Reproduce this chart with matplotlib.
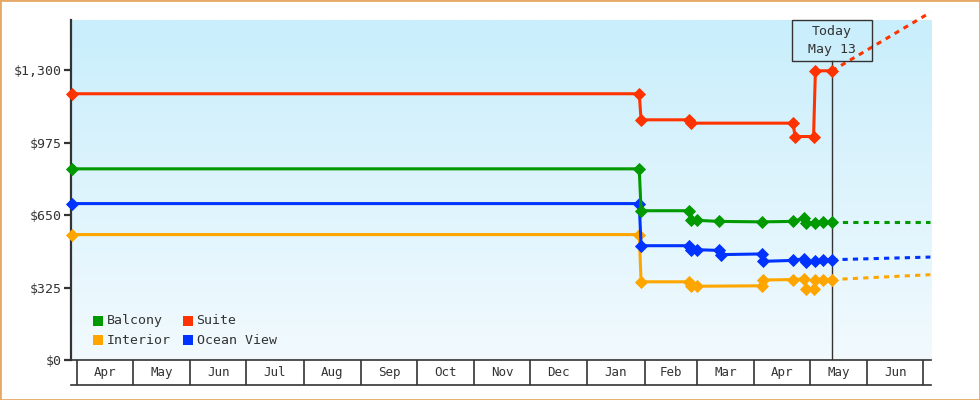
import matplotlib
matplotlib.use('Agg')
import matplotlib.pyplot as plt
import matplotlib.dates as mdates
from matplotlib.colors import LinearSegmentedColormap
from matplotlib.patches import Rectangle
import numpy as np
import pandas as pd

# ---------------- data ----------------
series_names = ['Balcony', 'Suite', 'Interior', 'Ocean View']
series_colors = ['#009900', '#ff3300', '#ffa500', '#0033ff']

balcony_dates = ['2024-03-29', '2025-01-29', '2025-01-30', '2025-02-25', '2025-02-26', '2025-03-01',
                 '2025-03-13', '2025-04-05', '2025-04-22', '2025-04-28', '2025-04-29', '2025-05-04',
                 '2025-05-08', '2025-05-13']
balcony_prices = [858, 858, 670, 670, 627, 627, 622, 620, 622, 637, 615, 615, 620, 620]

suite_dates = ['2024-03-29', '2025-01-29', '2025-01-30', '2025-02-25', '2025-02-26', '2025-04-22',
               '2025-04-23', '2025-05-03', '2025-05-04', '2025-05-13']
suite_prices = [1195, 1195, 1078, 1078, 1063, 1063, 1003, 1003, 1298, 1298]

interior_dates = ['2024-03-29', '2025-01-29', '2025-01-30', '2025-02-25', '2025-02-26', '2025-03-01',
                  '2025-04-05', '2025-04-06', '2025-04-22', '2025-04-28', '2025-04-29', '2025-05-03',
                  '2025-05-04', '2025-05-08', '2025-05-13']
interior_prices = [563, 563, 351, 351, 331, 331, 333, 359, 361, 364, 319, 319, 359, 361, 361]

ocean_dates = ['2024-03-29', '2025-01-29', '2025-01-30', '2025-02-25', '2025-02-26', '2025-03-01',
               '2025-03-13', '2025-03-14', '2025-04-05', '2025-04-06', '2025-04-22', '2025-04-28',
               '2025-04-29', '2025-05-04', '2025-05-08', '2025-05-13']
ocean_prices = [702, 702, 513, 513, 495, 495, 492, 473, 476, 443, 447, 455, 438, 443, 450, 450]

projection_end = '2025-07-05'
projection_end_prices = [620, 1560, 383, 462]   # Balcony, Suite, Interior, Ocean View

today = '2025-05-13'
today_label = 'Today\nMay 13'

y_ticks = [0, 325, 650, 975, 1300]
y_max = 1526
x_start = '2024-03-28 14:00'
x_end = '2025-07-05 08:00'
month_starts = pd.date_range('2024-04-01', '2025-07-01', freq='MS')
month_labels = ['Apr', 'May', 'Jun', 'Jul', 'Aug', 'Sep', 'Oct', 'Nov', 'Dec',
                'Jan', 'Feb', 'Mar', 'Apr', 'May', 'Jun']

series_dates = [balcony_dates, suite_dates, interior_dates, ocean_dates]
series_prices = [balcony_prices, suite_prices, interior_prices, ocean_prices]

# ---------------- style ----------------
FONT = 'DejaVu Sans Mono'
TXT = '#333333'
plt.rcParams['font.family'] = [FONT, 'DejaVu Sans']

W, H = 980, 400
fig = plt.figure(figsize=(W / 100, H / 100), dpi=100)
fig.patch.set_facecolor('white')

L, R, T, B = 71, 931, 20, 360
ax_rect = [L / W, 1 - B / H, (R - L) / W, (B - T) / H]

# gradient background
bg = fig.add_axes(ax_rect, zorder=0)
cmap = LinearSegmentedColormap.from_list('bg', ['#f2fafe', '#c9eefc'])
bg.imshow(np.linspace(0, 1, 256).reshape(-1, 1), cmap=cmap, aspect='auto',
          origin='lower', extent=[0, 1, 0, 1])
bg.axis('off')

ax = fig.add_axes(ax_rect, zorder=1)
ax.set_facecolor('none')

xmin = mdates.date2num(pd.Timestamp(x_start))
xmax = mdates.date2num(pd.Timestamp(x_end))
ax.set_xlim(xmin, xmax)
ax.set_ylim(0, y_max)

# today line
today_num = mdates.date2num(pd.Timestamp(today))
box_h_px, box_w_px = 41, 80
ax.axvline(pd.Timestamp(today), ymin=0, ymax=1 - box_h_px / (B - T), color=TXT, lw=1, zorder=2)

draw_order = [2, 3, 0, 1]
for i in draw_order:
    d = pd.to_datetime(series_dates[i])
    ax.plot(d, series_prices[i], color=series_colors[i], lw=2.2, marker='D', ms=6,
            markeredgewidth=0.6, markeredgecolor=series_colors[i],
            solid_joinstyle='miter', clip_on=False, zorder=3)
    ax.plot(pd.to_datetime([series_dates[i][-1], projection_end]),
            [series_prices[i][-1], projection_end_prices[i]],
            color=series_colors[i], lw=2.2, dashes=(1.7, 1.7), clip_on=False, zorder=3)

fx = ax_rect[0] + (today_num - xmin) / (xmax - xmin) * ax_rect[2]
fig.patches.append(Rectangle((fx - box_w_px / 2 / W, 1 - (T + box_h_px) / H), box_w_px / W, box_h_px / H,
                             transform=fig.transFigure, fill=False, ec=TXT, lw=1, zorder=5))
fig.text(fx, 1 - (T + box_h_px / 2) / H, today_label, ha='center', va='center',
         fontsize=9.5, color=TXT, linespacing=1.45, family=FONT)

# axes styling
for s in ['top', 'right', 'bottom']:
    ax.spines[s].set_visible(False)
ax.spines['left'].set_color(TXT)
ax.spines['left'].set_linewidth(1.6)
ax.spines['left'].set_zorder(2.5)
ax.set_yticks(y_ticks)
ax.set_yticklabels(['${:,}'.format(v) for v in y_ticks], fontsize=9.5, color=TXT, family=FONT)
ax.tick_params(axis='y', length=5, width=1.6, color=TXT, pad=2)
ax.set_xticks([])

# legend
sq_w, sq_h = 10 / (R - L), 10 / (B - T)
for i, name in enumerate(series_names):
    col, row = i % 2, i // 2
    x0 = 0.0256 + col * 0.1047
    y0 = 0.1009 - row * 0.0568
    ax.add_patch(Rectangle((x0, y0), sq_w, sq_h, transform=ax.transAxes,
                           color=series_colors[i], lw=0, zorder=6))
    ax.text(x0 + 13.5 / (R - L), y0 + sq_h / 2, name, transform=ax.transAxes,
            fontsize=9.5, color=TXT, va='center', ha='left', family=FONT, zorder=6)

# month row
mx = fig.add_axes([L / W, 1 - 385 / H, (R - L) / W, 25 / H], zorder=1)
mx.set_facecolor('none')
mx.set_xlim(xmin, xmax)
mx.set_ylim(0, 1)
mx.set_xticks([])
mx.set_yticks([])
for s in ['left', 'right']:
    mx.spines[s].set_visible(False)
for s in ['top', 'bottom']:
    mx.spines[s].set_color(TXT)
    mx.spines[s].set_linewidth(1.2)
for m in month_starts:
    mx.axvline(m, color=TXT, lw=1.2)
for k in range(len(month_labels)):
    a = mdates.date2num(month_starts[k])
    b = mdates.date2num(month_starts[k] + pd.offsets.MonthBegin(1))
    mx.text((a + b) / 2, 0.5, month_labels[k], ha='center', va='center',
            fontsize=9, color=TXT, family=FONT)

# outer border
fig.patches.append(Rectangle((0, 0), 1, 1, transform=fig.transFigure, fill=False,
                             ec='#e6a866', lw=2, zorder=10))

fig.savefig('out.png', dpi=100)
